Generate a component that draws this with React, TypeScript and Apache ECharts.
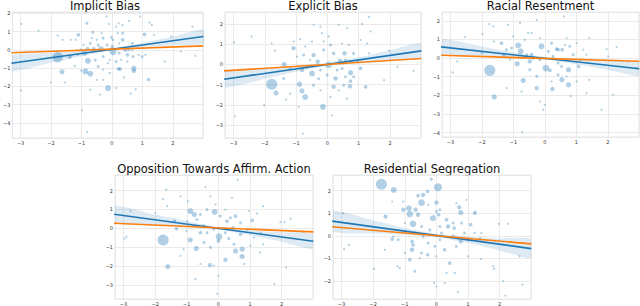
import React, { useEffect, useRef } from "react";
import * as echarts from "echarts";

// ---------- DATA ----------
const titles = ["Implicit Bias", "Explicit Bias", "Racial Resentment", "Opposition Towards Affirm. Action", "Residential Segregation"];

// [x, y, relative marker size]
const pointsImplicit = [
  [-1.78,-0.4,14],[-1.64,-1.2,7],[-0.87,-1.18,8],[-0.71,-1.31,8],[-0.79,-0.6,8],[-0.13,-2.09,8],[0.03,-0.09,10],[-0.36,0.05,8],[-0.8,0.04,6],[-0.6,0.04,6],[0.72,-1.0,7],[0.72,-1.15,6],[1.2,-1.62,5],[0.21,-1.04,5],[0.27,-1.05,5],[0.44,0,6],[0.35,0.55,5],[1.07,0.85,5],[-1.1,0.82,5],[-0.9,-0.18,7],[0.03,0.55,4],[0.01,0.18,5],[0.51,-0.27,5],[-0.29,-0.36,4],[0.69,-0.36,4],[-1.01,-1.13,3],[-1.22,-0.87,3],[-1.35,-0.36,4],[-1.4,-0.42,4],
  [-2.98,-2.22,3],[-2.97,1.42,3],[-2.41,1.05,3],[-2.01,-1.78,3],[-1.54,-1.78,3],[-1.62,0.55,3],[-1.78,0.78,3],[-0.82,1.45,4],[-0.63,0.96,4],[-0.18,1.82,3],[-0.1,1.42,3],[0.22,1.45,3],[0.56,1.58,3],[0.93,1.82,3],[1.23,1.5,3],[1.31,1.36,3],[1.38,0.82,3],[1.95,0.73,3],[2.64,1.27,3],[2.27,-0.09,3],[1.73,-0.64,3],[2.74,-0.33,3],[-0.98,-3.31,3],[-0.82,-4.5,3],[-0.39,-2.45,3],[0.14,-2.09,3],[0.78,-2.15,3],[0.62,-2.4,3],[-0.5,-1.64,3],[-0.29,-1.64,3],[0.4,-1.5,3],[-0.71,-2.18,3],[-0.45,-0.91,4],[-0.13,-0.73,3],[0.14,-0.64,4],[0.3,-0.55,3],[0.51,-0.64,3],[0.99,-0.36,4],[1.1,-0.27,3],[0.88,-0.27,3],[0.88,0.09,3],[0.67,0.36,4],[0.19,0.91,3],[0.35,0.91,4],[-0.29,0.64,4],[-0.5,0.55,3],[-0.71,0.36,4],[-0.93,0.27,3],[-1.19,0.55,3],[-1.35,0.55,3],[-0.66,0.64,3],[-0.45,0.27,4],[0.24,0.36,3],[-0.16,0.27,4],[0.14,1.27,3],[-0.34,0.91,3],[-1.01,0,4],[-1.12,-0.27,3],[-0.55,-0.55,4],[-0.29,-1.09,3],[-0.07,-1.27,3],[-0.07,-0.55,3],[0.24,-0.18,4],[0.56,0,4],[0.67,0,3],[0.35,1.36,3],[-0.02,0.69,4]
];

const pointsExplicit = [
  [-1.78,-0.98,15],[-1.64,-1.41,7],[-1.38,0,7],[-0.89,-0.98,7],[-0.81,-1.31,7],[-0.71,-1.61,8],[-0.49,-0.45,8],[-0.81,-0.28,6],[-1.08,0.8,6],[-0.44,0.46,6],[-0.14,-2.1,8],[0.04,-0.03,9],[0.26,-0.7,6],[0.2,-1.11,6],[0.74,-0.41,7],[0.72,-1.08,6],[0.74,-0.83,5],[0.55,0.55,6],[0.4,0.18,6],[1.22,-1.11,5],[1.06,-0.2,5],[0.2,0.55,5],[-0.31,0.13,6],[-0.65,-0.12,5],
  [-2.98,1.08,3],[-2.95,-2.57,3],[-2.42,1.38,3],[-2.02,-2.02,3],[-1.78,1.04,3],[-1.67,0.68,3],[-1.32,-1.74,3],[-1.19,-1.44,3],[-0.92,-2.1,3],[-0.78,-3.43,3],[-0.44,1.96,3],[-0.22,1.87,3],[0.36,1.96,3],[0.63,1.79,3],[1.11,2.0,3],[1.33,2.34,3],[1.38,1.63,3],[1.27,1.04,3],[1.06,1.21,3],[1.33,0.55,3],[1.97,0.68,3],[2.24,-0.12,3],[2.75,-0.32,3],[1.81,-0.78,3],[0.15,-2.52,3],[0.63,-1.69,3],[0.1,-1.61,3],[-0.44,-1.03,4],[-0.28,-0.71,4],[-0.55,0.22,3],[-0.76,0.46,4],[-0.97,0.38,3],[-1.19,-0.2,4],[-1.4,-0.7,4],[0.04,1.38,3],[-0.12,0.71,4],[-0.12,1.13,3],[0.1,0.96,4],[0.47,1.04,3],[0.68,0.96,3],[0.84,0.55,4],[0.95,0.13,4],[0.58,0.22,4],[0.31,-0.28,4],[0.47,-0.2,4],[-0.01,-0.53,4],[-0.22,-0.28,4],[-0.71,0.88,3],[-0.87,1.24,3],[-1.08,1.13,3],[-0.17,1.54,3],[-0.49,1.13,3],[0.84,-0.61,4],[0.58,-0.61,4],[0.52,-1.03,4],[0.36,-1.28,3],[-0.22,-1.28,3]
];

const pointsRacial = [
  [-1.75,-0.66,15],[-1.61,-2.09,7],[-0.85,0.68,8],[-0.77,0.36,8],[-0.88,-0.3,7],[-0.69,-1.2,7],[-0.11,0.63,8],[0.03,-0.54,9],[-0.48,-0.18,6],[-0.26,-1.61,6],[0.24,-1.66,6],[0.54,-1.16,7],[0.75,-1.43,7],[0.75,-0.63,7],[0.16,-0.66,5],[0.42,0.45,5],[0.37,0.48,5],[1.07,-0.45,5],[0.55,0.45,5],[-1.38,0.8,5],[-1.3,0.18,5],[-0.37,0,5],[-0.42,0.18,5],
  [-2.93,-0.77,3],[-2.79,-0.18,3],[-2.54,1.13,3],[-1.98,1.29,3],[-1.77,1.82,3],[-1.62,0.89,3],[-2.01,0.27,3],[-1.64,1.7,3],[-1.17,1.79,3],[-0.79,1.88,3],[-0.53,1.34,3],[-0.26,2.05,3],[0.6,2.23,3],[0.69,1.07,3],[1.01,0.8,3],[1.41,1.07,3],[1.96,0.48,3],[2.28,0.59,3],[2.01,0.09,3],[2.65,-0.18,3],[2.91,-0.54,3],[1.41,-1.16,3],[1.32,-1.88,3],[2.17,-1.96,3],[1.8,-2.77,3],[0.82,-2.05,3],[0,-2.5,3],[-0.05,-2.77,3],[-0.16,-2.32,3],[-0.72,-3.98,3],[-0.74,-1.79,3],[-1.22,-1.61,3],[-0.26,-0.98,4],[-0.48,-0.63,4],[0.42,-0.89,4],[0.69,-0.98,3],[1.11,-0.09,3],[1.32,0.18,3],[0.9,0.18,4],[1.22,0.45,3],[0.79,0.63,4],[0.64,0.71,3],[0.21,0.8,4],[0.11,0.36,4],[0.26,0.09,4],[-0.16,1.07,3],[-0.42,1.34,3],[-1.01,1.16,3],[-1.22,0.45,4],[-1.06,0.54,4],[-0.64,0.98,3],[-0.58,0.18,4],[-1.11,-0.09,3],[-0.16,-0.09,4],[0.42,-0.27,4],[0.53,-0.45,4],[0.21,-1.25,3],[1.01,-1.25,3]
];

const pointsOpposition = [
  [-1.75,-0.61,15],[-1.6,-2.02,7],[-0.89,0.91,8],[-0.76,0.73,7],[-0.89,-0.61,7],[-0.7,-1.06,7],[-0.12,0.87,8],[0.02,-0.44,9],[-0.27,-1.94,6],[0.22,-1.66,6],[0.54,-1.19,7],[0.75,-1.1,7],[0.75,-1.48,7],[-1.39,0.38,5],[-1.33,-0.02,5],[-0.46,0.12,5],[-0.57,-0.23,5],[0.27,0.38,5],[0.46,0.03,5],[0.54,0.65,5],[1.07,0.42,5],[0.7,-0.31,5],[0,-0.66,5],
  [-2.97,-0.54,3],[-2.91,-0.44,3],[-2.78,0.91,3],[-1.99,0.82,3],[-1.65,2.04,3],[-1.75,1.55,3],[-1.62,1.17,3],[-1.2,1.69,3],[-0.97,1.43,3],[-0.41,2.18,3],[-0.25,1.69,3],[0.61,2.57,3],[0.43,1.61,3],[0.96,0.91,3],[1.22,0.79,3],[1.41,1.17,3],[1.96,0.33,3],[2.09,0.33,3],[2.28,0.51,3],[2.7,-0.19,3],[1.41,-0.84,3],[1.32,-1.27,3],[2.14,-2.06,3],[1.77,-2.93,3],[0.82,-1.88,3],[0,-2.5,3],[-0.04,-3.46,3],[-0.15,-1.97,3],[-0.73,-2.67,3],[-0.57,-1.88,3],[-1.1,-1.1,3],[-1.2,-1.45,3],[-0.25,-1.01,4],[-0.46,-0.75,4],[0.49,-0.84,4],[1.01,-0.92,3],[1.12,-0.49,3],[0.91,-0.05,4],[1.33,-0.23,3],[0.7,0.3,4],[0.38,0.56,4],[0.06,0.65,4],[0.22,0.99,3],[-0.09,1.26,3],[-0.36,0.99,4],[-0.57,0.73,4],[-0.68,0.47,4],[-0.99,0.38,3],[-1.2,0.12,3],[-0.36,-0.23,4],[-0.15,-0.05,4],[0.22,-0.23,4],[0.33,-0.54,4],[-1.01,-0.14,3]
];

const pointsResidential = [
  [-1.74,2.28,15],[0.05,2.15,11],[-1.35,2.03,8],[-0.47,1.47,9],[-0.87,1.22,8],[-0.84,0.96,9],[-0.74,0.53,9],[-0.11,0.78,8],[0.77,1.03,7],[-1.61,0.85,6],[-1.05,1.15,6],[-0.66,1.15,6],[-0.58,0.93,6],[-0.42,1.81,6],[-0.28,1.96,5],[0,1.47,6],[-0.58,1.78,5],[0.72,1.26,6],[0.37,0.41,6],[0.56,0.34,5],[0.07,0.93,5],[0.32,0.71,5],[1.08,0.49,5],[1.21,1.0,5],[-1.4,-0.15,5],[-0.77,-0.62,6],[-0.74,-0.4,5],[-0.77,-0.25,5],[-0.28,-0.84,5],[0.26,-0.62,5],[0.77,-0.25,6],[0.53,-0.03,5],[0.42,-1.21,5],[-0.84,-1.06,5],
  [-2.92,-0.59,3],[-2.77,-0.4,3],[-2.95,1.0,3],[-1.97,-1.47,3],[-1.23,-1.35,3],[-1.16,-1.43,3],[-1.4,1.51,3],[-1.05,1.51,3],[-0.16,2.5,4],[0.63,1.44,3],[0.95,1.59,3],[1.23,1.07,3],[1.38,-0.1,3],[1.42,0.12,3],[1.97,0.53,3],[2.26,0.53,3],[1.79,-1.35,3],[1.82,-1.47,3],[2.11,-2.01,3],[2.18,-2.65,3],[2.72,-2.16,3],[2.63,-0.91,3],[1.4,-1.03,3],[1.0,-0.91,3],[0.68,-2.5,3],[0.26,-2.09,3],[0,-2.24,3],[-0.07,-2.09,3],[-0.68,-1.57,4],[0.32,-1.65,3],[0.58,-1.65,3],[-1.21,-0.18,4],[-1.63,-0.62,3],[-1.37,-0.03,3],[-0.42,-0.03,4],[-0.21,0.26,4],[0.11,0.41,4],[0.16,0.12,4],[0.53,0.56,4],[0.79,0.56,4],[0.89,0.12,4],[1.0,-0.18,4],[1.21,0.12,3],[0.63,-0.47,4],[-0.05,-0.47,4],[-0.47,-0.76,4],[-1.0,-0.76,3],[-0.26,-0.32,4],[0.11,-0.18,4],[-1.0,0.56,3],[-1.21,0.26,3],[-0.47,0.41,4],[-0.68,0.12,4],[0,-0.91,3],[-0.53,-0.99,3],[0,1.07,4],[0.11,1.15,4],[-0.26,1.37,3]
];

// regression lines (blue) and orange lines: endpoints [x, y]
const blueImplicit = [[-3.3, -0.736], [3.0, 0.726]];
const orangeImplicit = [[-3.3, -0.16], [3.0, 0.22]];
const blueExplicit = [[-3.3, -0.736], [3.0, 0.669]];
const orangeExplicit = [[-3.3, -0.323], [3.0, 0.294]];
const blueRacial = [[-3.3, 0.599], [3.0, -0.573]];
const orangeRacial = [[-3.3, 0.148], [3.0, -0.173]];
const blueOpposition = [[-3.3, 0.746], [3.0, -0.678]];
const orangeOpposition = [[-3.3, 0.268], [3.0, -0.186]];
const blueResidential = [[-3.3, 0.647], [3.0, -0.569]];
const orangeResidential = [[-3.3, 0.396], [3.0, -0.36]];

// confidence band
const bandX = [-3.3, -2, -1, 0, 1, 2, 3.0];
const bandLoImplicit = [-1.16, -0.70, -0.35, -0.04, 0.14, 0.25, 0.35];
const bandHiImplicit = [-0.32, -0.16, -0.05, 0.10, 0.38, 0.73, 1.11];
const bandLoExplicit = [-1.15, -0.71, -0.36, -0.07, 0.09, 0.20, 0.29];
const bandHiExplicit = [-0.33, -0.19, -0.08, 0.07, 0.35, 0.70, 1.05];
const bandLoRacial = [0.19, 0.10, 0.03, -0.09, -0.33, -0.64, -0.95];
const bandHiRacial = [1.01, 0.62, 0.31, 0.06, -0.07, -0.14, -0.19];
const bandLoOpposition = [0.31, 0.17, 0.08, -0.07, -0.36, -0.70, -1.08];
const bandHiOpposition = [1.19, 0.73, 0.38, 0.07, -0.10, -0.20, -0.28];
const bandLoResidential = [0.20, 0.11, 0.04, -0.07, -0.32, -0.65, -0.99];
const bandHiResidential = [1.10, 0.69, 0.36, 0.09, -0.04, -0.11, -0.15];

// axis ranges
const xRange = [-3.27, 2.99];
const yRanges = [[-4.82, 2.07], [-3.64, 2.59], [-4.23, 2.47], [-3.73, 2.82], [-2.8, 2.69]];

// ---------- LAYOUT ----------
const grids = [
  { left: 7, top: 12, width: 196, height: 126 },
  { left: 225, top: 12, width: 196, height: 126 },
  { left: 442, top: 12, width: 197, height: 125 },
  { left: 115, top: 175, width: 198, height: 125 },
  { left: 333, top: 175, width: 198, height: 125 },
];
const titleY = [6, 6, 6, 168.5, 168.5];

const panels = [
  { pts: pointsImplicit, blue: blueImplicit, orange: orangeImplicit, lo: bandLoImplicit, hi: bandHiImplicit },
  { pts: pointsExplicit, blue: blueExplicit, orange: orangeExplicit, lo: bandLoExplicit, hi: bandHiExplicit },
  { pts: pointsRacial, blue: blueRacial, orange: orangeRacial, lo: bandLoRacial, hi: bandHiRacial },
  { pts: pointsOpposition, blue: blueOpposition, orange: orangeOpposition, lo: bandLoOpposition, hi: bandHiOpposition },
  { pts: pointsResidential, blue: blueResidential, orange: orangeResidential, lo: bandLoResidential, hi: bandHiResidential },
];

const fmt = (v: number) => (v < 0 ? "\u2212" + Math.abs(v) : String(v));

export default function App() {
  const ref = useRef<HTMLDivElement>(null);
  useEffect(() => {
    if (!ref.current) return;
    const chart = echarts.init(ref.current, undefined, { renderer: "svg" });
    const labelStyle = {
      fontSize: 5,
      color: "#333",
      fontFamily: "DejaVu Sans",
      showMinLabel: false,
      showMaxLabel: false,
    };
    const split = { show: true, lineStyle: { color: "#e6e6e6", width: 0.8 } };
    const series: any[] = [];
    panels.forEach((p, i) => {
      series.push({
        type: "scatter",
        xAxisIndex: i,
        yAxisIndex: i,
        data: p.pts,
        symbolSize: (d: number[]) => d[2] * 0.74,
        itemStyle: { color: "#1f77b4", opacity: 0.35 },
        z: 2,
      });
      series.push({
        type: "custom",
        xAxisIndex: i,
        yAxisIndex: i,
        clip: true,
        data: bandX.map((x, k) => [x, p.lo[k], p.hi[k]]),
        encode: { x: 0, y: [1, 2] },
        renderItem: (params: any, api: any) => {
          if (params.dataIndex !== 0) return null;
          const pts: number[][] = [];
          for (let k = 0; k < bandX.length; k++) pts.push(api.coord([bandX[k], p.hi[k]]));
          for (let k = bandX.length - 1; k >= 0; k--) pts.push(api.coord([bandX[k], p.lo[k]]));
          return {
            type: "polygon",
            shape: { points: pts, smooth: 0.2 },
            style: { fill: "rgba(31,119,180,0.15)", stroke: "none" },
          };
        },
        z: 3,
      });
      series.push({
        type: "line",
        xAxisIndex: i,
        yAxisIndex: i,
        data: p.blue,
        showSymbol: false,
        clip: true,
        lineStyle: { color: "#1f77b4", width: 1.6 },
        z: 4,
      });
      series.push({
        type: "line",
        xAxisIndex: i,
        yAxisIndex: i,
        data: p.orange,
        showSymbol: false,
        clip: true,
        lineStyle: { color: "#ff7f0e", width: 1.6 },
        z: 5,
      });
    });

    chart.setOption({
      animation: false,
      backgroundColor: "#fff",
      grid: grids.map((g) => ({ ...g, show: true, borderColor: "#e0e0e0", borderWidth: 0.8, backgroundColor: "transparent" })),
      xAxis: grids.map((_, i) => ({
        type: "value",
        gridIndex: i,
        min: xRange[0],
        max: xRange[1],
        minInterval: 1,
        maxInterval: 1,
        axisLine: { show: false },
        axisTick: { show: false },
        splitLine: split,
        axisLabel: { ...labelStyle, margin: 2, formatter: fmt },
      })),
      yAxis: grids.map((_, i) => ({
        type: "value",
        gridIndex: i,
        min: yRanges[i][0],
        max: yRanges[i][1],
        minInterval: 1,
        maxInterval: 1,
        axisLine: { show: false },
        axisTick: { show: false },
        splitLine: split,
        axisLabel: { ...labelStyle, margin: 2, formatter: fmt },
      })),
      graphic: grids.map((g, i) => ({
        type: "text",
        x: g.left + g.width / 2,
        y: titleY[i],
        style: {
          text: titles[i],
          fontSize: 11.5,
          fontFamily: "DejaVu Sans",
          fill: "#111",
          align: "center",
          verticalAlign: "middle",
        },
      })),
      series,
    });
    return () => chart.dispose();
  }, []);
  return <div ref={ref} style={{ position: "absolute", left: 0, top: 0, width: 640, height: 306 }} />;
}
